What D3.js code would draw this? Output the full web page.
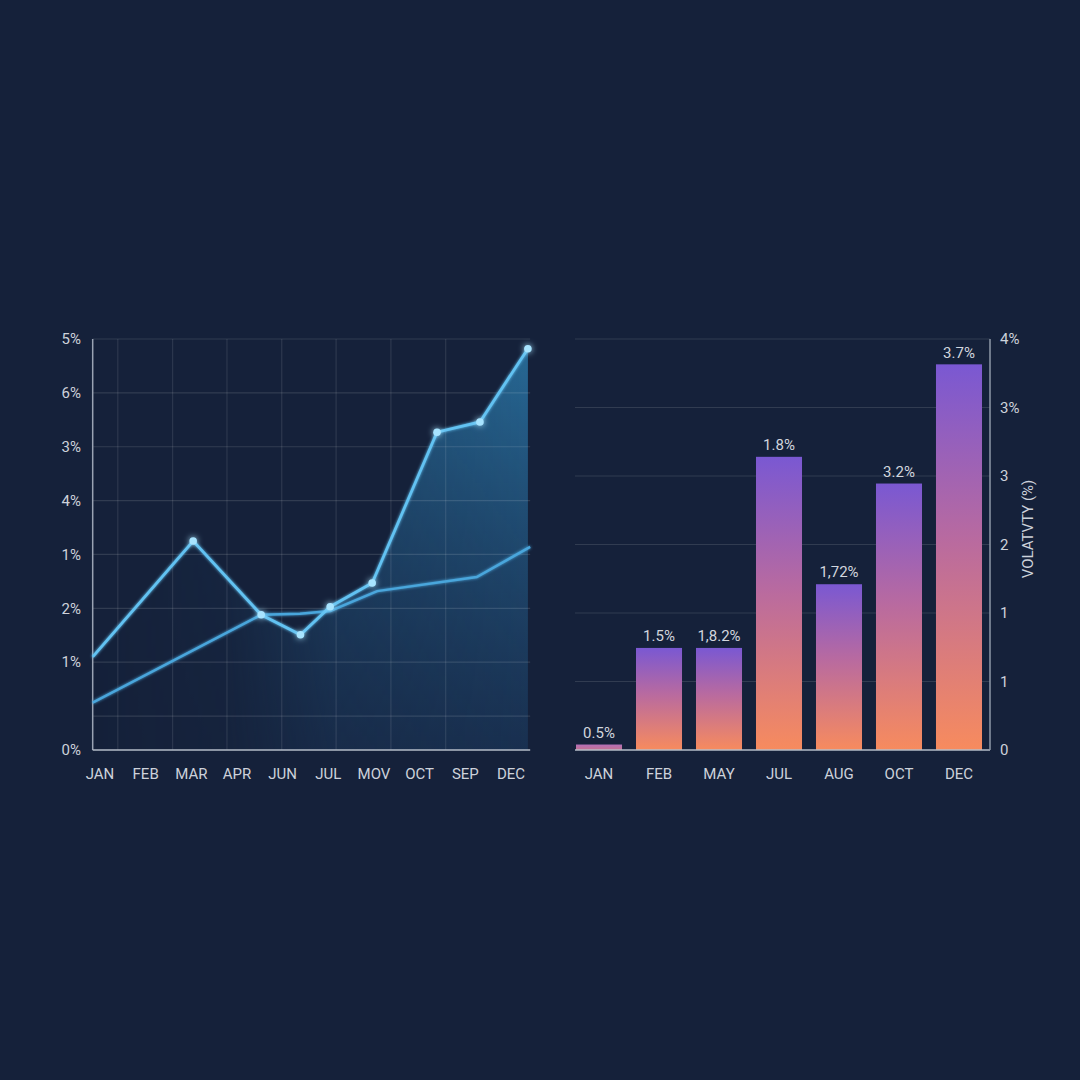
<!DOCTYPE html>
<html>
<head>
<meta charset="utf-8">
<script src="https://cdn.jsdelivr.net/npm/d3@7"></script>
<style>
  html, body { margin: 0; padding: 0; background: #15213a; }
  svg { display: block; }
  text { font-family: "Roboto", "Inter", sans-serif; }
</style>
</head>
<body>
<svg id="chart" width="1080" height="1080"></svg>
<script>
// ---------- DATA ----------
const lineMonths = ["JAN","FEB","MAR","APR","JUN","JUL","MOV","OCT","SEP","DEC"];
const leftTickValues = [0, 0.63, 1.63, 2.63, 3.63, 4.63, 5.63, 6.63, 7.63];
const leftTickLabels = ["0%", "", "1%", "2%", "1%", "4%", "3%", "6%", "5%"];
const leftGridX = [0.39, 1.59, 2.78, 3.98, 5.17, 6.37, 7.57];
const leftXExtent = [-0.16, 9.42];
const series1X = [-0.16, 2.04, 3.53, 4.39, 5.04, 5.96, 7.38, 8.32, 9.37];
const series1Y = [1.73, 3.88, 2.51, 2.14, 2.66, 3.10, 5.90, 6.09, 7.45];
const series2X = [-0.16, 3.53, 4.38, 5.04, 6.07, 8.25, 9.42];
const series2Y = [0.88, 2.51, 2.53, 2.58, 2.95, 3.21, 3.77];

const barMonths = ["JAN","FEB","MAY","JUL","AUG","OCT","DEC"];
const barValues = [0.08, 1.49, 1.49, 4.28, 2.42, 3.89, 5.63];
const barLabels = ["0.5%","1.5%","1,8.2%","1.8%","1,72%","3.2%","3.7%"];
const rightTickValues = [0, 1, 2, 3, 4, 5, 6];
const rightTickLabels = ["0", "1", "1", "2", "3", "3%", "4%"];
const rightAxisTitle = "VOLATVTY (%)";

// ---------- SETUP ----------
const svg = d3.select("#chart");
const defs = svg.append("defs");
const FS = 15;
const TXT = "#cdd2db";

svg.append("rect").attr("width", 1080).attr("height", 1080).attr("fill", "#15213a");

const glow = defs.append("filter").attr("id", "glow").attr("x", "-200%").attr("y", "-200%").attr("width", "500%").attr("height", "500%");
glow.append("feGaussianBlur").attr("stdDeviation", 3).attr("result", "b");
const gm = glow.append("feMerge");
gm.append("feMergeNode").attr("in", "b");
gm.append("feMergeNode").attr("in", "SourceGraphic");

const lineGlow = defs.append("filter").attr("id", "lineGlow").attr("x", "-20%").attr("y", "-20%").attr("width", "140%").attr("height", "140%");
lineGlow.append("feGaussianBlur").attr("stdDeviation", 1.5).attr("result", "b");
const lm = lineGlow.append("feMerge");
lm.append("feMergeNode").attr("in", "b");
lm.append("feMergeNode").attr("in", "SourceGraphic");

// ---------- LEFT CHART ----------
const xL = d3.scaleLinear().domain([0, 9]).range([100, 511]);
const yL = d3.scaleLinear().domain([0, 7.63]).range([750, 339]);
const xLabel = d3.scalePoint().domain(lineMonths).range([xL(0), xL(9)]);

const left = svg.append("g");
const lx0 = xL(leftXExtent[0]), lx1 = xL(leftXExtent[1]);

const areaGrad = defs.append("linearGradient").attr("id", "areaGrad")
  .attr("gradientUnits", "userSpaceOnUse").attr("x1", 0).attr("y1", yL(7.63)).attr("x2", 0).attr("y2", yL(0));
areaGrad.append("stop").attr("offset", "0%").attr("stop-color", "#2b78a8").attr("stop-opacity", 0.85);
areaGrad.append("stop").attr("offset", "100%").attr("stop-color", "#1d3f66").attr("stop-opacity", 0.5);

const maskGrad = defs.append("linearGradient").attr("id", "maskGrad")
  .attr("gradientUnits", "userSpaceOnUse").attr("x1", lx0).attr("y1", 0).attr("x2", lx1).attr("y2", 0);
maskGrad.append("stop").attr("offset", "0%").attr("stop-color", "#fff").attr("stop-opacity", 0.0);
maskGrad.append("stop").attr("offset", "30%").attr("stop-color", "#fff").attr("stop-opacity", 0.12);
maskGrad.append("stop").attr("offset", "55%").attr("stop-color", "#fff").attr("stop-opacity", 0.7);
maskGrad.append("stop").attr("offset", "100%").attr("stop-color", "#fff").attr("stop-opacity", 1);
const mask = defs.append("mask").attr("id", "areaMask");
mask.append("rect").attr("x", lx0).attr("y", 300).attr("width", lx1 - lx0).attr("height", 460).attr("fill", "url(#maskGrad)");

const s1 = series1X.map((x, i) => [x, series1Y[i]]);
const s2 = series2X.map((x, i) => [x, series2Y[i]]);

const area = d3.area().x(d => xL(d[0])).y0(yL(0)).y1(d => yL(d[1]));
left.append("path").datum(s1).attr("d", area).attr("fill", "url(#areaGrad)").attr("mask", "url(#areaMask)");

left.selectAll(".hg").data(leftTickValues.filter(v => v > 0)).enter().append("line")
  .attr("x1", lx0).attr("x2", lx1).attr("y1", d => yL(d)).attr("y2", d => yL(d))
  .attr("stroke", "#ffffff").attr("stroke-opacity", 0.12).attr("stroke-width", 1.2);
left.selectAll(".vg").data(leftGridX).enter().append("line")
  .attr("x1", d => xL(d)).attr("x2", d => xL(d)).attr("y1", yL(7.63)).attr("y2", yL(0))
  .attr("stroke", "#ffffff").attr("stroke-opacity", 0.1).attr("stroke-width", 1.2);

left.append("line").attr("x1", lx0).attr("x2", lx0).attr("y1", yL(7.63)).attr("y2", yL(0))
  .attr("stroke", "#9aa3b3").attr("stroke-width", 1.5);
left.append("line").attr("x1", lx0).attr("x2", lx1).attr("y1", yL(0)).attr("y2", yL(0))
  .attr("stroke", "#b4bcc8").attr("stroke-width", 1.5);

left.selectAll(".yl").data(leftTickValues).enter().append("text")
  .attr("x", 81).attr("y", d => yL(d)).attr("dy", "0.35em").attr("text-anchor", "end")
  .attr("fill", TXT).attr("font-size", FS)
  .text((d, i) => leftTickLabels[i]);

left.selectAll(".xl").data(lineMonths).enter().append("text")
  .attr("x", d => xLabel(d)).attr("y", 774).attr("dy", "0.35em").attr("text-anchor", "middle")
  .attr("fill", TXT).attr("font-size", FS)
  .text(d => d);

const line = d3.line().x(d => xL(d[0])).y(d => yL(d[1]));
left.append("path").datum(s2).attr("d", line).attr("fill", "none")
  .attr("stroke", "#4aa6dc").attr("stroke-width", 2.5).attr("filter", "url(#lineGlow)");
left.append("path").datum(s1).attr("d", line).attr("fill", "none")
  .attr("stroke", "#62c2f2").attr("stroke-width", 2.8).attr("filter", "url(#lineGlow)");

left.selectAll(".mk").data(s1.slice(1)).enter().append("circle")
  .attr("cx", d => xL(d[0])).attr("cy", d => yL(d[1])).attr("r", 3.8)
  .attr("fill", "#a8e4ff").attr("filter", "url(#glow)");

// ---------- RIGHT CHART ----------
const xR = d3.scaleBand().domain(barMonths).range([576, 982]).paddingInner(0.233).paddingOuter(0);
const yR = d3.scaleLinear().domain([0, 6]).range([750, 339]);
const right = svg.append("g");
const rx0 = 575, rAxis = 990;

right.selectAll(".rg").data(rightTickValues.filter(v => v > 0)).enter().append("line")
  .attr("x1", rx0).attr("x2", rAxis).attr("y1", d => yR(d)).attr("y2", d => yR(d))
  .attr("stroke", "#ffffff").attr("stroke-opacity", 0.12).attr("stroke-width", 1.2);

const barGrad = defs.append("linearGradient").attr("id", "barGrad").attr("x1", 0).attr("y1", 0).attr("x2", 0).attr("y2", 1);
barGrad.append("stop").attr("offset", "0%").attr("stop-color", "#7a58d2");
barGrad.append("stop").attr("offset", "45%").attr("stop-color", "#b86aa0");
barGrad.append("stop").attr("offset", "100%").attr("stop-color", "#f78b5e");
const barGradSmall = defs.append("linearGradient").attr("id", "barGradSmall").attr("x1", 0).attr("y1", 0).attr("x2", 0).attr("y2", 1);
barGradSmall.append("stop").attr("offset", "0%").attr("stop-color", "#b36fb8");
barGradSmall.append("stop").attr("offset", "100%").attr("stop-color", "#c47290");

right.selectAll(".bar").data(barMonths).enter().append("rect")
  .attr("x", d => xR(d)).attr("width", xR.bandwidth())
  .attr("y", (d, i) => yR(barValues[i])).attr("height", (d, i) => yR(0) - yR(barValues[i]))
  .attr("fill", (d, i) => barValues[i] < 0.3 ? "url(#barGradSmall)" : "url(#barGrad)");

right.selectAll(".bl").data(barMonths).enter().append("text")
  .attr("x", d => xR(d) + xR.bandwidth() / 2).attr("y", (d, i) => yR(barValues[i]) - 12)
  .attr("dy", "0.35em").attr("text-anchor", "middle")
  .attr("fill", "#d2d6de").attr("font-size", FS)
  .text((d, i) => barLabels[i]);

right.selectAll(".bx").data(barMonths).enter().append("text")
  .attr("x", d => xR(d) + xR.bandwidth() / 2).attr("y", 774).attr("dy", "0.35em").attr("text-anchor", "middle")
  .attr("fill", TXT).attr("font-size", FS)
  .text(d => d);

right.append("line").attr("x1", rx0).attr("x2", rAxis).attr("y1", yR(0)).attr("y2", yR(0))
  .attr("stroke", "#b4bcc8").attr("stroke-width", 1.5);
right.append("line").attr("x1", rAxis).attr("x2", rAxis).attr("y1", yR(6)).attr("y2", yR(0))
  .attr("stroke", "#8e98a9").attr("stroke-width", 1.5);

right.selectAll(".ry").data(rightTickValues).enter().append("text")
  .attr("x", 1000).attr("y", d => yR(d)).attr("dy", "0.35em").attr("text-anchor", "start")
  .attr("fill", TXT).attr("font-size", FS)
  .text((d, i) => rightTickLabels[i]);

right.append("text")
  .attr("transform", "translate(1028,529) rotate(-90)")
  .attr("text-anchor", "middle").attr("dy", "0.35em")
  .attr("fill", TXT).attr("font-size", FS)
  .text(rightAxisTitle);
</script>
</body>
</html>
